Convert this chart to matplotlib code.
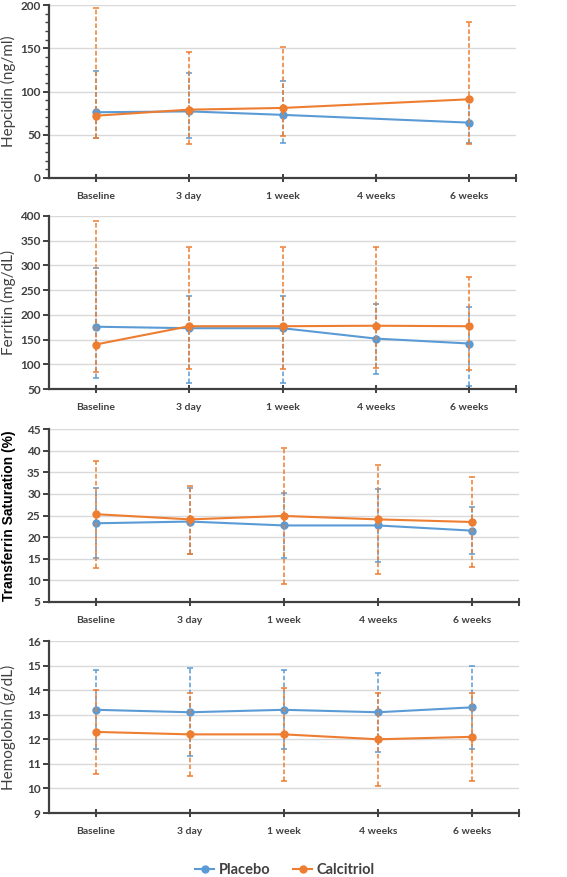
import numpy as np
import matplotlib
matplotlib.use("Agg")
import matplotlib.pyplot as plt
from matplotlib.ticker import MultipleLocator, FixedLocator
from matplotlib.lines import Line2D

categories = ["Baseline", "3 day", "1 week", "4 weeks", "6 weeks"]

# Hepcidin (ng/ml)
hep_placebo = [76, 77, 73, np.nan, 64]
hep_placebo_hi = [124, 121, 112, np.nan, 90]
hep_placebo_lo = [46, 46, 40, np.nan, 40]
hep_calc = [72, 79, 81, np.nan, 91]
hep_calc_hi = [196, 146, 151, np.nan, 180]
hep_calc_lo = [46, 39, 48, np.nan, 39]

# Ferritin (mg/dL)
fer_placebo = [176, 173, 173, 152, 142]
fer_placebo_hi = [295, 238, 238, 222, 216]
fer_placebo_lo = [73, 63, 63, 81, 56]
fer_calc = [140, 177, 177, 178, 177]
fer_calc_hi = [389, 338, 338, 338, 276]
fer_calc_lo = [84, 91, 91, 93, 88]

# Transferrin saturation (%)
tsat_placebo = [23.2, 23.6, 22.7, 22.7, 21.5]
tsat_placebo_hi = [31.3, 31.4, 30.3, 31.1, 27.0]
tsat_placebo_lo = [15.1, 16.0, 15.1, 14.3, 16.0]
tsat_calc = [25.3, 24.1, 24.9, 24.1, 23.5]
tsat_calc_hi = [37.7, 31.9, 40.6, 36.7, 34.0]
tsat_calc_lo = [12.9, 16.0, 9.1, 11.5, 13.0]

# Hemoglobin (g/dL)
hb_placebo = [13.2, 13.1, 13.2, 13.1, 13.3]
hb_placebo_hi = [14.8, 14.9, 14.8, 14.7, 15.0]
hb_placebo_lo = [11.6, 11.3, 11.6, 11.5, 11.6]
hb_calc = [12.3, 12.2, 12.2, 12.0, 12.1]
hb_calc_hi = [14.0, 13.9, 14.1, 13.9, 13.9]
hb_calc_lo = [10.6, 10.5, 10.3, 10.1, 10.3]

BLUE = "#5B9BD5"
ORANGE = "#ED7D31"
AX = "#404040"
GRID = "#D9D9D9"

W, H = 567, 877
fig = plt.figure(figsize=(W / 100, H / 100), dpi=100)

def rect(left, right, top, bottom):
    return [left / W, 1 - bottom / H, (right - left) / W, (bottom - top) / H]

panels = [
    dict(r=rect(49, 516, 5, 178), ylim=(0, 200), major=50, minor=10,
         label="Hepcidin (ng/ml)", lfont="Lato", lweight="normal", lsize=11, lcolor=AX,
         data=(hep_placebo, hep_placebo_hi, hep_placebo_lo, hep_calc, hep_calc_hi, hep_calc_lo)),
    dict(r=rect(49, 516, 216, 389), ylim=(50, 400), major=50, minor=None,
         label="Ferritin (mg/dL)", lfont="Lato", lweight="normal", lsize=11, lcolor=AX,
         data=(fer_placebo, fer_placebo_hi, fer_placebo_lo, fer_calc, fer_calc_hi, fer_calc_lo)),
    dict(r=rect(49, 519, 429, 602), ylim=(5, 45), major=5, minor=None,
         label="Transferrin Saturation (%)", lfont="Liberation Sans", lweight="bold", lsize=10, lcolor="black",
         data=(tsat_placebo, tsat_placebo_hi, tsat_placebo_lo, tsat_calc, tsat_calc_hi, tsat_calc_lo)),
    dict(r=rect(49, 519, 641, 813), ylim=(9, 16), major=1, minor=None,
         label="Hemoglobin (g/dL)", lfont="Lato", lweight="normal", lsize=11, lcolor=AX,
         data=(hb_placebo, hb_placebo_hi, hb_placebo_lo, hb_calc, hb_calc_hi, hb_calc_lo)),
]

x = np.arange(len(categories))

def draw_series(ax, vals, hi, lo, color, z):
    vals = np.array(vals, dtype=float)
    hi = np.array(hi, dtype=float)
    lo = np.array(lo, dtype=float)
    m = np.isfinite(vals)
    xs = x[m]
    v = vals[m]
    yerr = np.vstack([v - lo[m], hi[m] - v])
    eb = ax.errorbar(xs, v, yerr=yerr, fmt="none", ecolor=color, elinewidth=1.1,
                     capsize=2.2, capthick=1.1, zorder=z)
    for lc in eb[2]:
        lc.set_linestyle((0, (3, 1.5)))
    ax.plot(xs, v, color=color, lw=1.5, marker="o", ms=5, zorder=z + 1)

for p in panels:
    ax = fig.add_axes(p["r"])
    axw = p["r"][2] * W
    ax.set_xlim(-0.5, len(categories) - 0.5)
    ax.set_ylim(*p["ylim"])
    ax.yaxis.set_major_locator(MultipleLocator(p["major"]))
    if p["minor"]:
        ax.yaxis.set_minor_locator(MultipleLocator(p["minor"]))
    ax.set_xticks(x)
    ax.set_xticklabels(categories)
    ax.xaxis.set_minor_locator(FixedLocator([len(categories) - 0.5]))
    ax.grid(axis="y", color=GRID, lw=1.0, zorder=0)
    ax.set_axisbelow(True)
    for s in ["top", "right"]:
        ax.spines[s].set_visible(False)
    for s in ["left", "bottom"]:
        ax.spines[s].set_color(AX)
        ax.spines[s].set_linewidth(1.6)
    ax.tick_params(axis="x", which="both", direction="inout", length=6, width=1.4,
                   color=AX, pad=7)
    ax.tick_params(axis="y", which="major", direction="out", length=4, width=1.4,
                   color=AX, pad=2)
    ax.tick_params(axis="y", which="minor", direction="out", length=3, width=1.0,
                   color=AX)
    for t in ax.get_xticklabels():
        t.set_fontfamily("Lato")
        t.set_fontweight("bold")
        t.set_fontsize(7.5)
        t.set_color(AX)
    for t in ax.get_yticklabels():
        t.set_fontfamily("Lato")
        t.set_fontweight("bold")
        t.set_fontsize(8.5)
        t.set_color(AX)
    ax.set_ylabel(p["label"], fontfamily=p["lfont"], fontweight=p["lweight"],
                  fontsize=p["lsize"], color=p["lcolor"])
    ax.yaxis.set_label_coords((16 - 49) / axw, 0.5)
    d = p["data"]
    draw_series(ax, d[0], d[1], d[2], BLUE, 3)
    draw_series(ax, d[3], d[4], d[5], ORANGE, 5)

handles = [Line2D([], [], color=BLUE, lw=1.5, marker="o", ms=5, label="Placebo"),
           Line2D([], [], color=ORANGE, lw=1.5, marker="o", ms=5, label="Calcitriol")]
fig.legend(handles=handles, loc="center", bbox_to_anchor=(285 / W, 1 - 870 / H),
           ncol=2, frameon=False, handlelength=1.3, handletextpad=0.3, columnspacing=1.6,
           prop={"family": "Lato", "weight": "bold", "size": 10.5}, labelcolor=AX)

fig.savefig("out.png", dpi=100)
